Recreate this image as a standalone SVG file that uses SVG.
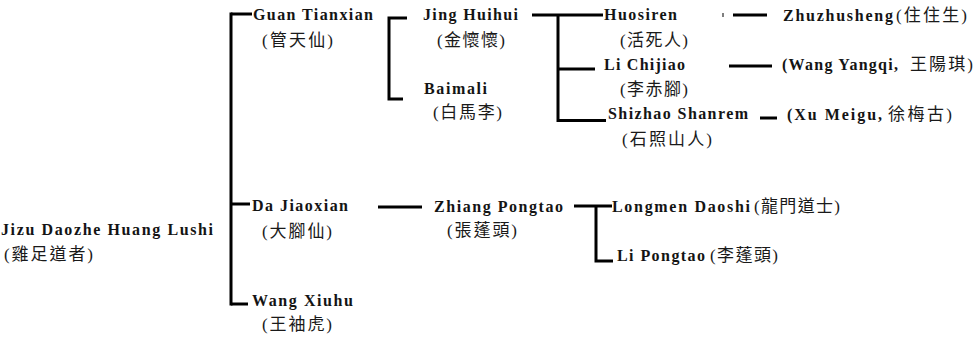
<svg xmlns="http://www.w3.org/2000/svg" width="974" height="337" viewBox="0 0 974 337">
<style>
.bg{fill:#ffffff}
.c{fill:none;stroke:#000;stroke-width:3;stroke-linecap:butt}
.n{font-family:"Liberation Serif","Noto Sans CJK TC",serif;font-weight:bold;font-size:16px;fill:#141414}
.z{font-family:"Liberation Serif","Noto Sans CJK TC",serif;font-weight:normal;font-size:17px;fill:#1a1a1a}
</style>
<rect class="bg" x="0" y="0" width="974" height="337"/>
<g id="connectors">
<path class="c" d="M231 12.5 V305.5"/>
<path class="c" d="M231 14 H252"/>
<path class="c" d="M231 204 H250"/>
<path class="c" d="M231 304 H248"/>
<path class="c" d="M407 18 H389 V99 H403"/>
<path class="c" d="M532 15 H603"/>
<path class="c" d="M558 15 V120.5 H606"/>
<path class="c" d="M558 69 H595"/>
<rect x="722.5" y="13" width="1" height="4" fill="#000"/>
<path class="c" d="M733 15 H767"/>
<path class="c" d="M729 66 H772"/>
<path class="c" d="M760 118 H777"/>
<path class="c" d="M378 207 H422"/>
<path class="c" d="M574 206 H612"/>
<path class="c" d="M596 206 V261 H613"/>
</g>
<g id="root">
<text class="n" x="1" y="235" textLength="212" lengthAdjust="spacing">Jizu Daozhe Huang Lushi</text>
<text class="z" x="4" y="260" textLength="89" lengthAdjust="spacing">(雞足道者)</text>
</g>
<g id="guan">
<text class="n" x="253" y="20" textLength="120" lengthAdjust="spacing">Guan Tianxian</text>
<text class="z" x="262" y="46" textLength="71" lengthAdjust="spacing">(管天仙)</text>
</g>
<g id="jing">
<text class="n" x="423" y="20" textLength="95" lengthAdjust="spacing">Jing Huihui</text>
<text class="z" x="437" y="46" textLength="68" lengthAdjust="spacing">(金懷懷)</text>
</g>
<g id="baimali">
<text class="n" x="424" y="94" textLength="63" lengthAdjust="spacing">Baimali</text>
<text class="z" x="433" y="118" textLength="69" lengthAdjust="spacing">(白馬李)</text>
</g>
<g id="huosiren">
<text class="n" x="604" y="20" textLength="73" lengthAdjust="spacing">Huosiren</text>
<text class="z" x="620" y="46" textLength="68" lengthAdjust="spacing">(活死人)</text>
</g>
<g id="lichijiao">
<text class="n" x="604" y="70" textLength="81" lengthAdjust="spacing">Li Chijiao</text>
<text class="z" x="620" y="95" textLength="68" lengthAdjust="spacing">(李赤腳)</text>
</g>
<g id="shizhao">
<text class="n" x="608" y="119" textLength="140" lengthAdjust="spacing">Shizhao Shanrem</text>
<text class="z" x="622" y="145" textLength="90" lengthAdjust="spacing">(石照山人)</text>
</g>
<g id="zhuzhusheng">
<text class="n" x="783" y="21" textLength="110" lengthAdjust="spacing">Zhuzhusheng</text>
<text class="z" x="896" y="21" textLength="71" lengthAdjust="spacing">(住住生)</text>
</g>
<g id="wangyangqi">
<text class="n" x="782" y="70" textLength="116" lengthAdjust="spacing">(Wang Yangqi,</text>
<text class="z" x="910" y="70" textLength="63" lengthAdjust="spacing">王陽琪)</text>
</g>
<g id="xumeigu">
<text class="n" x="787" y="120" textLength="95" lengthAdjust="spacing">(Xu Meigu,</text>
<text class="z" x="888" y="120" textLength="64" lengthAdjust="spacing">徐梅古)</text>
</g>
<g id="dajiaoxian">
<text class="n" x="252" y="211" textLength="96" lengthAdjust="spacing">Da Jiaoxian</text>
<text class="z" x="262" y="237" textLength="70" lengthAdjust="spacing">(大腳仙)</text>
</g>
<g id="zhiang">
<text class="n" x="434" y="212" textLength="129" lengthAdjust="spacing">Zhiang Pongtao</text>
<text class="z" x="447" y="236" textLength="70" lengthAdjust="spacing">(張蓬頭)</text>
</g>
<g id="longmen">
<text class="n" x="612" y="212" textLength="138" lengthAdjust="spacing">Longmen Daoshi</text>
<text class="z" x="754" y="212" textLength="86" lengthAdjust="spacing">(龍門道士)</text>
</g>
<g id="lipongtao">
<text class="n" x="617" y="261" textLength="88" lengthAdjust="spacing">Li Pongtao</text>
<text class="z" x="710" y="261" textLength="68" lengthAdjust="spacing">(李蓬頭)</text>
</g>
<g id="wangxiuhu">
<text class="n" x="252" y="306" textLength="101" lengthAdjust="spacing">Wang Xiuhu</text>
<text class="z" x="262" y="330" textLength="70" lengthAdjust="spacing">(王袖虎)</text>
</g>
</svg>
